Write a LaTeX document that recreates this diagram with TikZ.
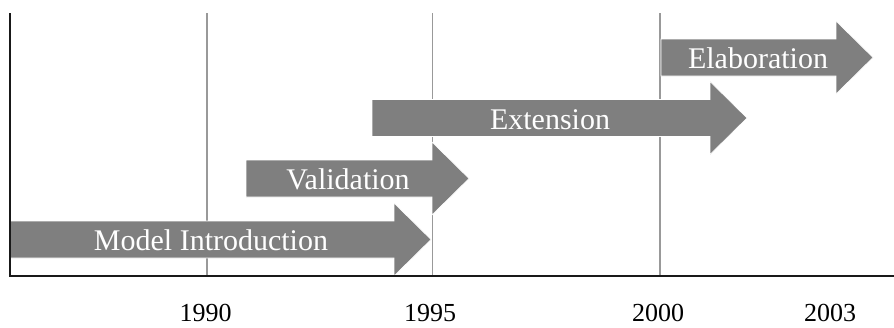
\documentclass[tikz,border=0pt]{standalone}
\usepackage{fontspec}
\setmainfont{Liberation Serif}
\definecolor{phasegray}{HTML}{7F7F7F}
\definecolor{gridgray}{HTML}{999999}
\tikzset{
  axisline/.style={draw=black!90, line width=1.6pt},
  gridline/.style={draw=gridgray, line width=1.4pt},
  phasefill/.style={fill=phasegray, draw=white, line width=0.6pt},
  phaselabel/.style={text=white, anchor=base, inner sep=0pt, font=\fontsize{30}{30}\selectfont},
  yearlabel/.style={text=black, anchor=base, inner sep=0pt, font=\fontsize{26}{26}\selectfont}
}
% #1 name, #2 tail x, #3 head base x, #4 centre y, #5 label x, #6 text
\newcommand{\phasearrow}[6]{%
  \fill[phasefill] (#2,#4-18.5) -- (#3,#4-18.5) -- (#3,#4-36.5) -- (#3+37,#4)
    -- (#3,#4+36.5) -- (#3,#4+18.5) -- (#2,#4+18.5) -- cycle;
  \node[phaselabel] (#1) at (#5,#4+11) {#6};}
\begin{document}
\begin{tikzpicture}[x=1pt,y=-1pt]
  \useasboundingbox (0,0) rectangle (894,327);
  % year grid
  \coordinate (g90t) at (207,13);   \coordinate (g90b) at (207,276);
  \coordinate (g95t) at (432.5,13); \coordinate (g95b) at (432.5,276);
  \coordinate (g00t) at (660,13);   \coordinate (g00b) at (660,276);
  \draw[gridline] (g90t) -- (g90b);
  \draw[gridline] (g95t) -- (g95b);
  \draw[gridline] (g00t) -- (g00b);
  % phases
  \phasearrow{intro}{10}{394}{239.5}{211}{Model Introduction}
  \phasearrow{valid}{246}{432}{178.5}{348}{Validation}
  \phasearrow{ext}{372}{710}{118}{550}{Extension}
  \phasearrow{elab}{661}{836}{57.5}{758}{Elaboration}
  % axes
  \coordinate (top) at (10,13);
  \coordinate (origin) at (10,276);
  \coordinate (right) at (894,276);
  \draw[axisline] (top) -- (origin) -- (right);
  % years
  \node[yearlabel] (y90) at (205.5,321) {1990};
  \node[yearlabel] (y95) at (430,321) {1995};
  \node[yearlabel] (y00) at (658,321) {2000};
  \node[yearlabel] (y03) at (830,321) {2003};
\end{tikzpicture}
\end{document}
